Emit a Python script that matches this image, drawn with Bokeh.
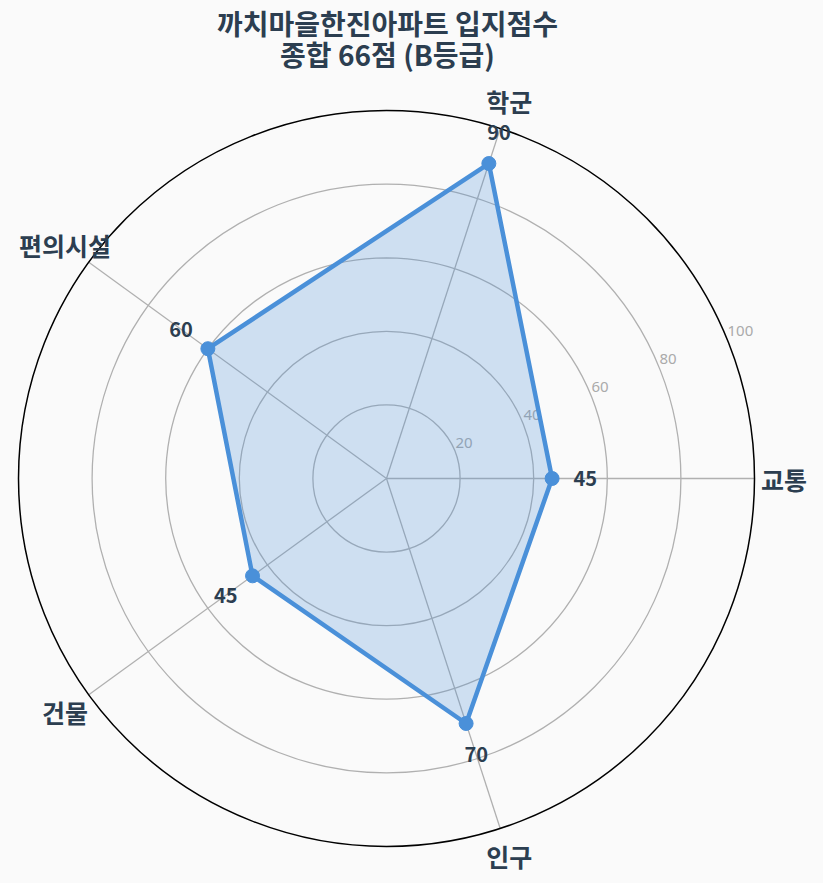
import numpy as np
from bokeh.plotting import figure
from bokeh.models import Label, Range1d
from bokeh.core.properties import value
from bokeh.embed import file_html
from bokeh.resources import INLINE

# ---- data ----
categories = ["교통", "학군", "편의시설", "건물", "인구"]
scores = [45, 90, 60, 45, 70]
radial_ticks = [20, 40, 60, 80, 100]
radial_tick_labels = ["20", "40", "60", "80", "100"]
title_line1 = "까치마을한진아파트 입지점수"
title_line2 = "종합 66점 (B등급)"

# ---- style ----
FONT = "Noto Sans CJK KR"
BG = "#fafafa"
LINE = "#4a90d9"
TEXT = "#2c3e50"
GRID = "#b0b0b0"

W, H = 823, 883
SCALE = 3.68          # px per unit
CX, CY = 386, 478     # centre in px from top-left of the figure
RMAX = 100

p = figure(width=W, height=H, output_backend="svg", toolbar_location=None,
           min_border=0, x_axis_type=None, y_axis_type=None)
p.x_range = Range1d(-CX / SCALE, (W - CX) / SCALE)
p.y_range = Range1d(-(H - CY) / SCALE, CY / SCALE)
p.grid.visible = False
p.outline_line_color = None
p.background_fill_color = BG
p.border_fill_color = BG

n = len(categories)
angles = np.deg2rad(np.arange(n) * 360.0 / n)

# grid rings
for r in radial_ticks[:-1]:
    p.circle(x=[0], y=[0], radius=r, fill_color=None, line_color=GRID, line_width=1.3)
# spokes
p.segment(x0=np.zeros(n), y0=np.zeros(n), x1=RMAX * np.cos(angles), y1=RMAX * np.sin(angles),
          line_color=GRID, line_width=1.3)
# outer circle
p.circle(x=[0], y=[0], radius=RMAX, fill_color=None, line_color="black", line_width=1.5)

# radial tick labels at 22.5 deg
ra = np.deg2rad(22.5)
p.text(x=[r * np.cos(ra) for r in radial_ticks], y=[r * np.sin(ra) for r in radial_ticks],
       text=radial_tick_labels, text_font=value("Noto Sans"), text_font_size="15px",
       text_color="#aaaaaa", text_align="left", text_baseline="bottom", x_offset=1, y_offset=-2)

# data polygon
vals = np.array(scores, dtype=float)
xs = vals * np.cos(angles)
ys = vals * np.sin(angles)
p.patch(x=list(xs) + [xs[0]], y=list(ys) + [ys[0]], fill_color=LINE, fill_alpha=0.25,
        line_color=None)
p.line(x=list(xs) + [xs[0]], y=list(ys) + [ys[0]], line_color=LINE, line_width=4.5,
       line_join="round")
p.scatter(x=xs, y=ys, size=14, fill_color=LINE, line_color=LINE)

# value labels
lr = vals + 9
p.text(x=lr * np.cos(angles), y=lr * np.sin(angles), text=[str(v) for v in scores],
       text_font=value(FONT), text_font_style="bold", text_font_size="20px",
       text_color=TEXT, text_align="center", text_baseline="middle")

# category labels
cr = 108
p.text(x=cr * np.cos(angles), y=cr * np.sin(angles), text=categories,
       text_font=value(FONT), text_font_style="bold", text_font_size="25px",
       text_color=TEXT, text_align="center", text_baseline="middle")

# title
for txt, yy in [(title_line1, H - 22), (title_line2, H - 53)]:
    p.add_layout(Label(x=387, y=yy, x_units="screen", y_units="screen", text=txt,
                       text_font=FONT, text_font_style="bold", text_font_size="28px",
                       text_color=TEXT, text_align="center", text_baseline="middle"))

html = file_html(p, INLINE)
html = html.replace("<head>", "<head><style>body{background:#fafafa;}</style>", 1)
open("out.html", "w").write(html)
